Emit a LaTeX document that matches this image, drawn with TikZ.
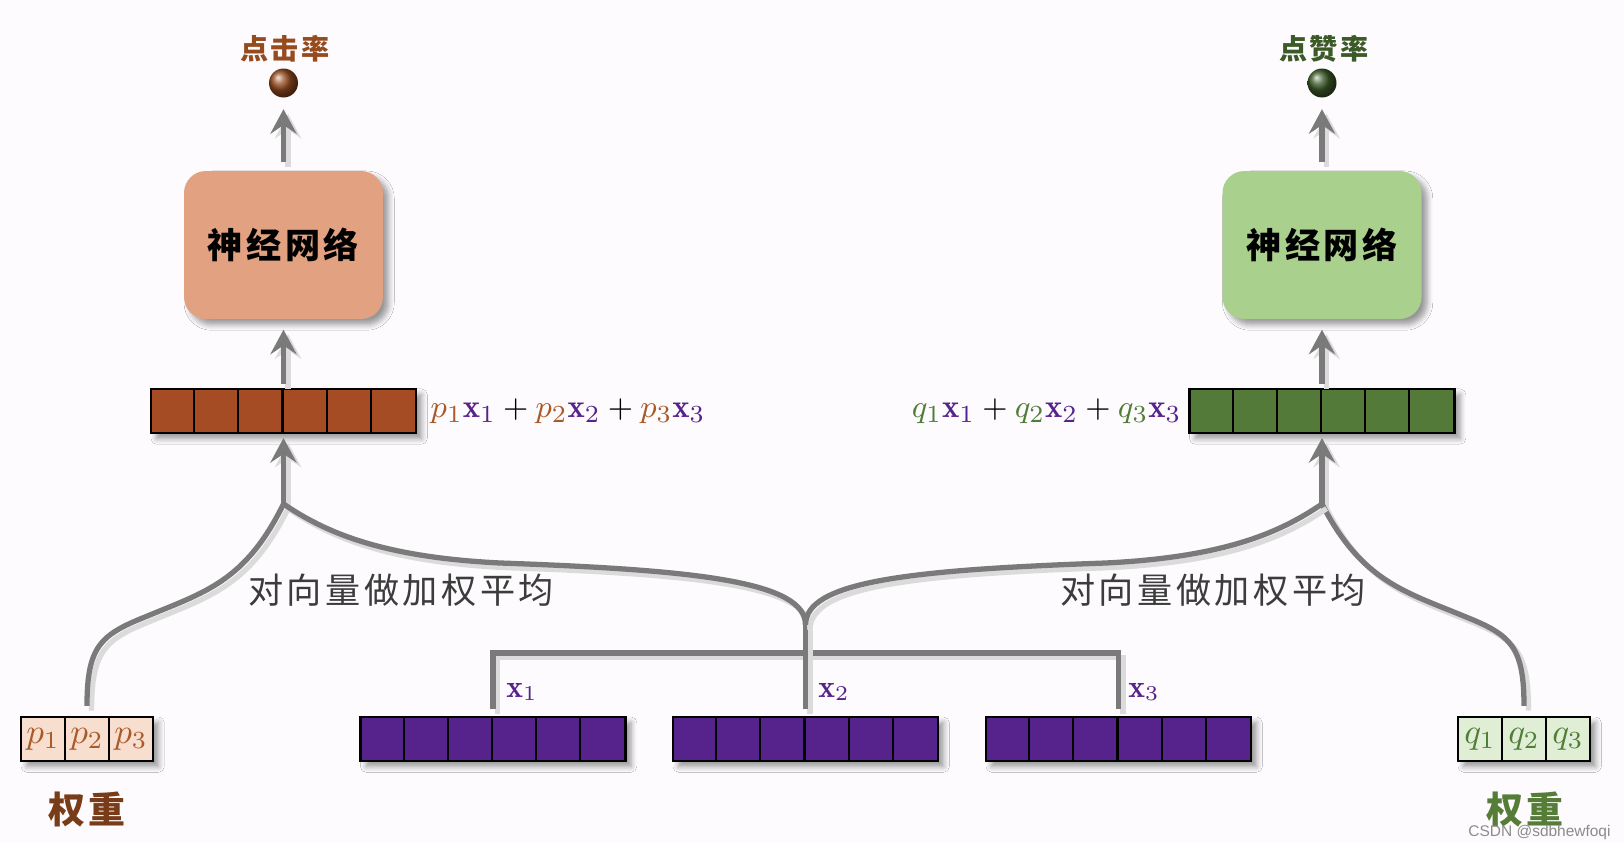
\documentclass[tikz,border=0pt]{standalone}
\usepackage{fontspec}
\newfontfamily\cjk[LetterSpace=10]{Noto Sans CJK SC}
\newfontfamily\wmfont{Liberation Sans}
\usetikzlibrary{arrows.meta,calc,shadows.blur}

\definecolor{bgpaper}{RGB}{253,251,253}
\definecolor{lgray}{RGB}{122,122,122}
\definecolor{txtgray}{RGB}{60,60,60}
\definecolor{vpurple}{RGB}{86,35,140}
\definecolor{sumbrown}{RGB}{166,76,36}
\definecolor{sumgreen}{RGB}{84,122,58}
\definecolor{nnsalmon}{RGB}{226,161,128}
\definecolor{nngreen}{RGB}{170,208,142}
\definecolor{pfill}{RGB}{247,222,207}
\definecolor{qfill}{RGB}{225,238,214}
\definecolor{pcol}{RGB}{170,90,40}
\definecolor{qcol}{RGB}{80,125,55}
\definecolor{ctrcol}{RGB}{150,75,30}
\definecolor{likecol}{RGB}{60,90,40}
\definecolor{wbrown}{RGB}{120,60,25}
\definecolor{wgreen}{RGB}{85,125,55}

\tikzset{
  boxshadow/.style={blur shadow={shadow xshift=1.6pt,shadow yshift=-1.6pt,shadow blur radius=1.6pt,shadow blur steps=6}},
  nnbox/.style={rounded corners=0.22cm, minimum width=1.99cm, minimum height=1.48cm, boxshadow, font=\cjk\bfseries\fontsize{10}{12}\selectfont},
  vecbar/.style={draw=black, line width=0.6pt, minimum width=2.65cm, minimum height=0.44cm, inner sep=0pt, boxshadow},
  wbox/.style={draw=black, line width=0.6pt, minimum width=1.32cm, minimum height=0.44cm, inner sep=0pt, boxshadow},
  wcell/.style={draw=black, line width=0.6pt, minimum width=0.44cm, minimum height=0.44cm, inner sep=0pt},
  gline/.style={draw=lgray, line width=1.5pt, preaction={draw=black!14, line width=1.5pt, transform canvas={xshift=1.3pt,yshift=-1.3pt}}},
  garrow/.style={gline, -{Stealth[length=7pt,width=7.5pt,inset=2.5pt]}},
  outball/.style={circle, minimum size=0.29cm, inner sep=0pt},
  cjklabel/.style={font=\cjk\bfseries\fontsize{8}{10}\selectfont},
  weightlabel/.style={font=\cjk\bfseries\fontsize{10.5}{12}\selectfont},
  avglabel/.style={font=\cjk\fontsize{10}{12}\selectfont, text=txtgray},
  sumlabel/.style={inner sep=0pt, font=\fontsize{9.3}{11}\selectfont},
}

\begin{document}
\begin{tikzpicture}
  \fill[bgpaper] (0,0) rectangle (16.24,8.42);
  \useasboundingbox (0,0) rectangle (16.24,8.42);

  % input vectors x1, x2, x3
  \foreach \vn/\vx in {v1/4.93, v2/8.055, v3/11.185} {
    \node[vecbar, fill=vpurple] (\vn) at (\vx,1.03) {};
    \foreach \i in {1,...,5}
      \draw[line width=0.6pt] ([xshift=\i*0.4417cm]\vn.south west) -- ([xshift=\i*0.4417cm]\vn.north west);
  }
  \node[text=vpurple, font=\fontsize{9}{10}\selectfont] (lx1) at (5.22,1.50) {$\mathbf{x}_1$};
  \node[text=vpurple, font=\fontsize{9}{10}\selectfont] (lx2) at (8.34,1.50) {$\mathbf{x}_2$};
  \node[text=vpurple, font=\fontsize{9}{10}\selectfont] (lx3) at (11.44,1.50) {$\mathbf{x}_3$};

  % bracket joining the vectors
  \coordinate (bk) at (8.055,1.89);
  \coordinate (m) at (8.055,2.17);
  \draw[gline] ([yshift=0.07cm]v1.north) |- (bk) -| ([yshift=0.07cm]v3.north);
  \draw[gline] ([yshift=0.07cm]v2.north) -- (m);

  % weights
  \node[wbox, fill=pfill] (pw) at (0.87,1.03) {};
  \foreach \i in {1,2,3}
    \node[wcell, text=pcol] (p\i) at ({0.43+(\i-1)*0.44},1.03) {$p_{\i}$};
  \node[weightlabel, text=wbrown] (wl) at (0.87,0.32) {权重};
  \node[wbox, fill=qfill] (qw) at (15.24,1.03) {};
  \foreach \i in {1,2,3}
    \node[wcell, text=qcol] (q\i) at ({14.80+(\i-1)*0.44},1.03) {$q_{\i}$};
  \node[weightlabel, text=wgreen] (wr) at (15.25,0.32) {权重};

  % weighted sums
  \node[vecbar, fill=sumbrown] (sumL) at (2.835,4.31) {};
  \node[vecbar, fill=sumgreen] (sumR) at (13.22,4.31) {};
  \foreach \i in {1,...,5} {
    \draw[line width=0.6pt] ([xshift=\i*0.4417cm]sumL.south west) -- ([xshift=\i*0.4417cm]sumL.north west);
    \draw[line width=0.6pt] ([xshift=\i*0.4417cm]sumR.south west) -- ([xshift=\i*0.4417cm]sumR.north west);
  }
  \node[sumlabel, anchor=west] (fL) at (4.30,4.31)
    {$\textcolor{pcol}{p_1}\textcolor{vpurple}{\mathbf{x}_1} + \textcolor{pcol}{p_2}\textcolor{vpurple}{\mathbf{x}_2} + \textcolor{pcol}{p_3}\textcolor{vpurple}{\mathbf{x}_3}$};
  \node[sumlabel, anchor=east] (fR) at (11.82,4.31)
    {$\textcolor{qcol}{q_1}\textcolor{vpurple}{\mathbf{x}_1} + \textcolor{qcol}{q_2}\textcolor{vpurple}{\mathbf{x}_2} + \textcolor{qcol}{q_3}\textcolor{vpurple}{\mathbf{x}_3}$};

  % networks and outputs
  \node[nnbox, fill=nnsalmon] (nnL) at (2.835,5.97) {神经网络};
  \node[nnbox, fill=nngreen] (nnR) at (13.22,5.97) {神经网络};
  \node[outball, ball color=ctrcol] (oL) at (2.835,7.59) {};
  \node[outball, ball color=likecol] (oR) at (13.22,7.59) {};
  \node[cjklabel, text=ctrcol] (tL) at (2.85,7.93) {点击率};
  \node[cjklabel, text=likecol] (tR) at (13.24,7.93) {点赞率};

  \draw[garrow, shorten <=0.04cm, shorten >=0.1cm] (sumL) -- (nnL);
  \draw[garrow, shorten <=0.04cm, shorten >=0.1cm] (sumR) -- (nnR);
  \draw[garrow, shorten <=0.08cm, shorten >=0.11cm] (nnL) -- (oL);
  \draw[garrow, shorten <=0.08cm, shorten >=0.11cm] (nnR) -- (oR);

  % weighted average branches
  \coordinate (jL) at (2.835,3.38);
  \coordinate (jR) at (13.22,3.38);
  \draw[garrow, shorten >=0.04cm] (jL) -- (sumL);
  \draw[garrow, shorten >=0.04cm] (jR) -- (sumR);
  \draw[gline] ([yshift=0.1cm]pw.north) .. controls (0.87,1.95) and (1.0,2.07) .. (1.45,2.25)
    .. controls (2.05,2.5) and (2.45,2.6) .. (jL);
  \draw[gline] ([yshift=0.1cm]qw.north) .. controls (15.24,1.95) and (15.11,2.07) .. (14.66,2.25)
    .. controls (14.06,2.5) and (13.62,2.6) .. (jR);
  \draw[gline] (jL) .. controls (3.25,3.1) and (3.8,2.85) .. (5.0,2.79)
    .. controls (7.0,2.72) and (8.055,2.6) .. (m);
  \draw[gline] (jR) .. controls (12.81,3.1) and (12.26,2.85) .. (11.06,2.79)
    .. controls (9.06,2.72) and (8.055,2.6) .. (m);
  \node[avglabel] (aL) at (4.01,2.52) {对向量做加权平均};
  \node[avglabel] (aR) at (12.13,2.52) {对向量做加权平均};

  \node[font=\wmfont\fontsize{4.4}{5}\selectfont, text=black!45] (wm) at (15.395,0.10) {CSDN @sdbhewfoqi};
\end{tikzpicture}
\end{document}
